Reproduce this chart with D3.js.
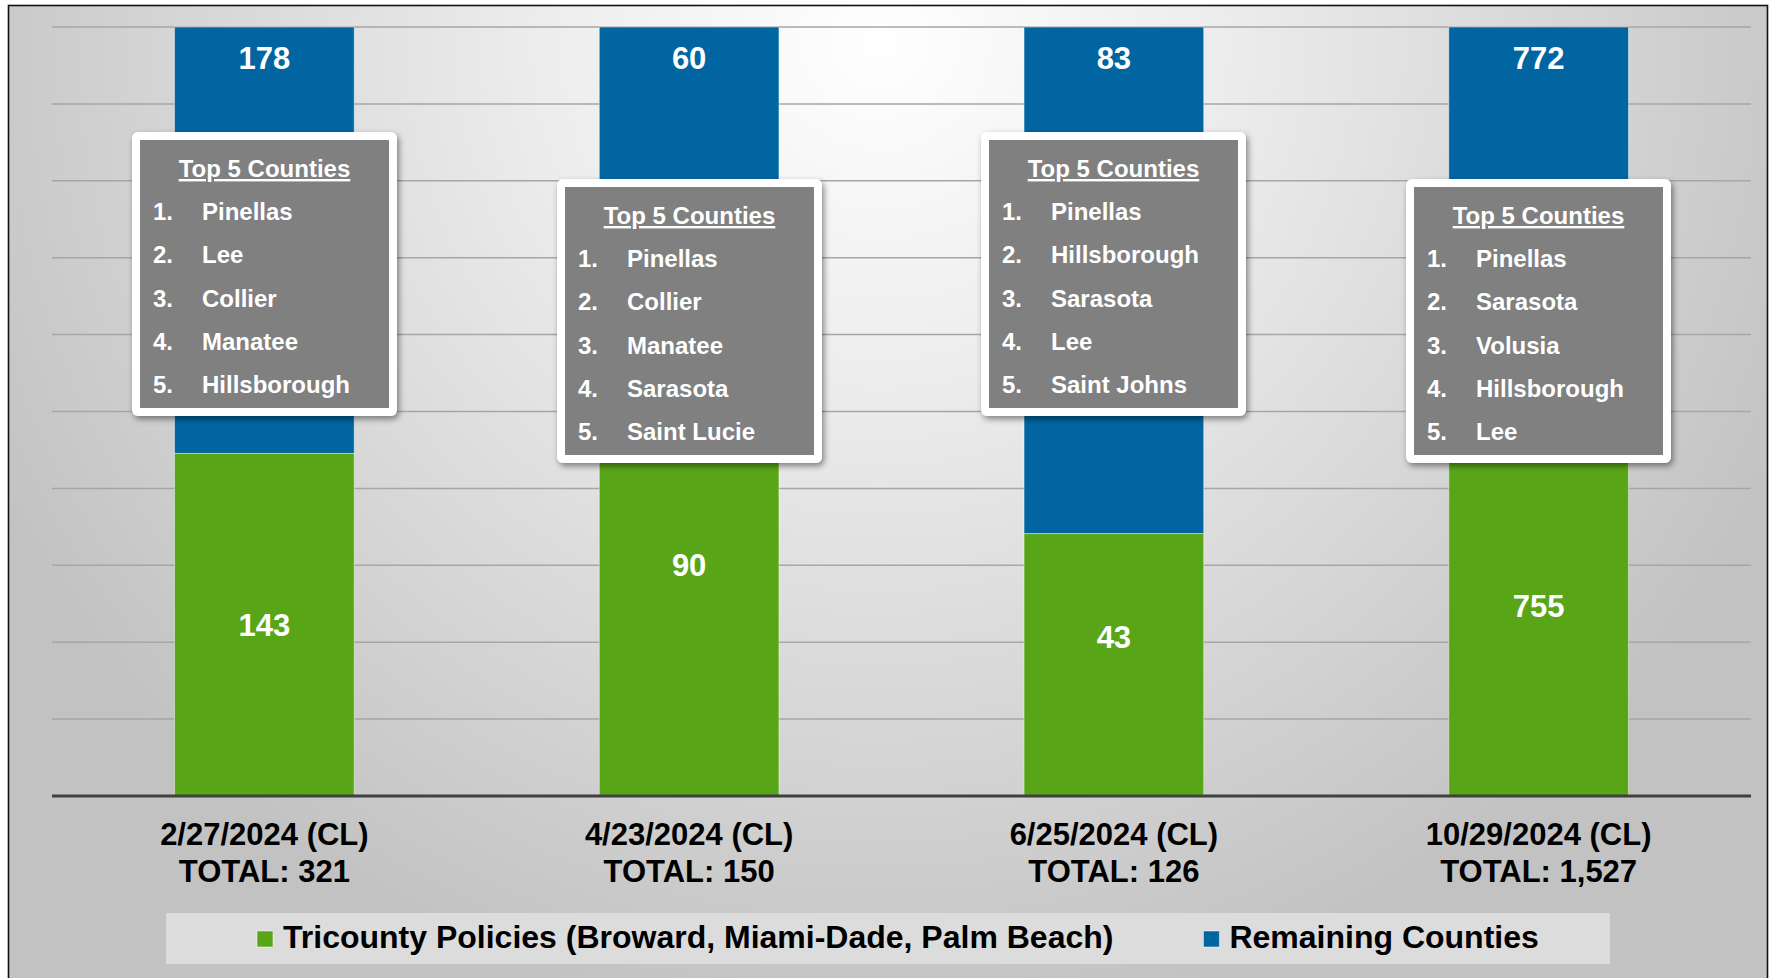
<!DOCTYPE html>
<html>
<head>
<meta charset="utf-8">
<script src="https://cdn.jsdelivr.net/npm/d3@7"></script>
<style>
    body { margin: 0; background: #fff; }
    text { font-family: "Liberation Sans", Arial, sans-serif; font-weight: bold; }
</style>
</head>
<body>
<div id="chart"></div>
<script>
const dates = ["2/27/2024 (CL)", "4/23/2024 (CL)", "6/25/2024 (CL)", "10/29/2024 (CL)"];
const tricounty = [143, 90, 43, 755];
const remaining = [178, 60, 83, 772];
const seriesNames = ["Tricounty Policies (Broward, Miami-Dade, Palm Beach)", "Remaining Counties"];
const topCounties = [
    ["Pinellas", "Lee", "Collier", "Manatee", "Hillsborough"],
    ["Pinellas", "Collier", "Manatee", "Sarasota", "Saint Lucie"],
    ["Pinellas", "Hillsborough", "Sarasota", "Lee", "Saint Johns"],
    ["Pinellas", "Sarasota", "Volusia", "Hillsborough", "Lee"]
];

const svgWidth = 1771, svgHeight = 978;
const plot = {left: 52, right: 1751, top: 27, bottom: 796};
const colors = {tri: "#58a618", rem: "#0065a1"};
// callout boxes sit at two heights, alternating
const calloutTops = [132, 179, 132, 179];
const calloutW = 265, calloutH = 284;
// hand-nudged green labels (the third one sits higher in the original)
const greenNudge = [0, 0, -28, 0];

const rows = dates.map((d, i) => ({date: d, tri: tricounty[i], rem: remaining[i]}));
const stack = d3.stack().keys(["tri", "rem"]).offset(d3.stackOffsetExpand);
const series = stack(rows);

const x = d3.scaleBand()
    .domain(dates)
    .range([plot.left, plot.right])
    .paddingInner(0.577)
    .paddingOuter(0.2885);

const y = d3.scaleLinear()
    .domain([0, 1])
    .range([plot.bottom, plot.top]);

const svg = d3.select("#chart").append("svg")
    .attr("width", svgWidth)
    .attr("height", svgHeight);

const defs = svg.append("defs");
const grad = defs.append("radialGradient")
    .attr("id", "bg")
    .attr("gradientUnits", "userSpaceOnUse")
    .attr("cx", 880).attr("cy", 40).attr("r", 1000);
grad.append("stop").attr("offset", "0").attr("stop-color", "#ffffff");
grad.append("stop").attr("offset", "0.35").attr("stop-color", "#ececec");
grad.append("stop").attr("offset", "1").attr("stop-color", "#c2c2c2");

const shadow = defs.append("filter").attr("id", "shadow")
    .attr("x", "-10%").attr("y", "-10%").attr("width", "130%").attr("height", "130%");
shadow.append("feDropShadow")
    .attr("dx", 2).attr("dy", 3).attr("stdDeviation", 3)
    .attr("flood-color", "#000").attr("flood-opacity", 0.45);

// frame
svg.append("rect")
    .attr("x", 8.5).attr("y", 5.5)
    .attr("width", 1759).attr("height", 1000)
    .attr("fill", "url(#bg)")
    .attr("stroke", "#111")
    .attr("stroke-width", 1.6);

// gridlines
svg.append("g")
    .selectAll("line")
    .data(y.ticks(10).filter(t => t > 0))
    .join("line")
    .attr("x1", plot.left).attr("x2", plot.right)
    .attr("y1", d => y(d)).attr("y2", d => y(d))
    .attr("stroke", "#a6a6a6")
    .attr("stroke-width", 1.5);

// bars
svg.append("g")
    .selectAll("g")
    .data(series)
    .join("g")
    .attr("fill", d => colors[d.key])
    .selectAll("rect")
    .data(d => d)
    .join("rect")
    .attr("x", d => x(d.data.date))
    .attr("width", x.bandwidth())
    .attr("y", d => y(d[1]))
    .attr("height", d => y(d[0]) - y(d[1]))
    .attr("stroke", "rgba(255,255,255,0.45)")
    .attr("stroke-width", 1);

// baseline
svg.append("line")
    .attr("x1", plot.left).attr("x2", plot.right)
    .attr("y1", y(0)).attr("y2", y(0))
    .attr("stroke", "#404040")
    .attr("stroke-width", 3);

// green value labels, centred in segment
svg.append("g")
    .selectAll("text")
    .data(series[0])
    .join("text")
    .attr("x", d => x(d.data.date) + x.bandwidth() / 2)
    .attr("y", (d, i) => (y(d[0]) + y(d[1])) / 2 + 11 + greenNudge[i])
    .attr("text-anchor", "middle")
    .attr("fill", "#fff")
    .attr("font-size", 31)
    .text(d => d.data.tri);

// blue value labels, at inside top
svg.append("g")
    .selectAll("text")
    .data(series[1])
    .join("text")
    .attr("x", d => x(d.data.date) + x.bandwidth() / 2)
    .attr("y", d => y(d[1]) + 42)
    .attr("text-anchor", "middle")
    .attr("fill", "#fff")
    .attr("font-size", 31)
    .text(d => d.data.rem);

// x axis labels
const xl = svg.append("g")
    .selectAll("text")
    .data(rows)
    .join("text")
    .attr("text-anchor", "middle")
    .attr("fill", "#000")
    .attr("font-size", 31);
xl.append("tspan")
    .attr("x", d => x(d.date) + x.bandwidth() / 2)
    .attr("y", 845)
    .text(d => d.date);
xl.append("tspan")
    .attr("x", d => x(d.date) + x.bandwidth() / 2)
    .attr("y", 882)
    .text(d => "TOTAL: " + d3.format(",")(d.tri + d.rem));

// callouts
const callouts = svg.append("g")
    .selectAll("g")
    .data(rows)
    .join("g")
    .attr("transform", (d, i) => `translate(${Math.round(x(d.date) + x.bandwidth() / 2 - calloutW / 2)},${calloutTops[i]})`);
callouts.append("rect")
    .attr("width", calloutW).attr("height", calloutH)
    .attr("rx", 6)
    .attr("fill", "#fff")
    .attr("filter", "url(#shadow)");
callouts.append("rect")
    .attr("x", 8).attr("y", 8)
    .attr("width", calloutW - 16).attr("height", calloutH - 16)
    .attr("fill", "#808080");
callouts.append("text")
    .attr("x", calloutW / 2).attr("y", 45)
    .attr("text-anchor", "middle")
    .attr("fill", "#fff")
    .attr("font-size", 24)
    .attr("text-decoration", "underline")
    .text("Top 5 Counties");
callouts.each(function(d, i) {
    const g = d3.select(this);
    g.selectAll(".num")
        .data(topCounties[i])
        .join("text")
        .attr("class", "num")
        .attr("x", 21)
        .attr("y", (c, j) => 88 + j * 43.3)
        .attr("fill", "#fff")
        .attr("font-size", 24)
        .text((c, j) => (j + 1) + ".");
    g.selectAll(".name")
        .data(topCounties[i])
        .join("text")
        .attr("class", "name")
        .attr("x", 70)
        .attr("y", (c, j) => 88 + j * 43.3)
        .attr("fill", "#fff")
        .attr("font-size", 24)
        .text(c => c);
});

// legend
svg.append("rect")
    .attr("x", 166).attr("y", 913)
    .attr("width", 1444).attr("height", 51)
    .attr("fill", "#dcdcdc");
const legend = svg.append("g");
let lx = 257;
seriesNames.forEach((name, i) => {
    const key = i === 0 ? "tri" : "rem";
    legend.append("rect")
        .attr("x", lx).attr("y", 931)
        .attr("width", 16).attr("height", 16)
        .attr("fill", colors[key])
        .attr("stroke", "rgba(255,255,255,0.5)")
        .attr("stroke-width", 1);
    const t = legend.append("text")
        .attr("x", lx + 26).attr("y", 948)
        .attr("fill", "#000")
        .attr("font-size", 32)
        .text(name);
    lx += 26 + t.node().getComputedTextLength() + 90;
});
</script>
</body>
</html>
